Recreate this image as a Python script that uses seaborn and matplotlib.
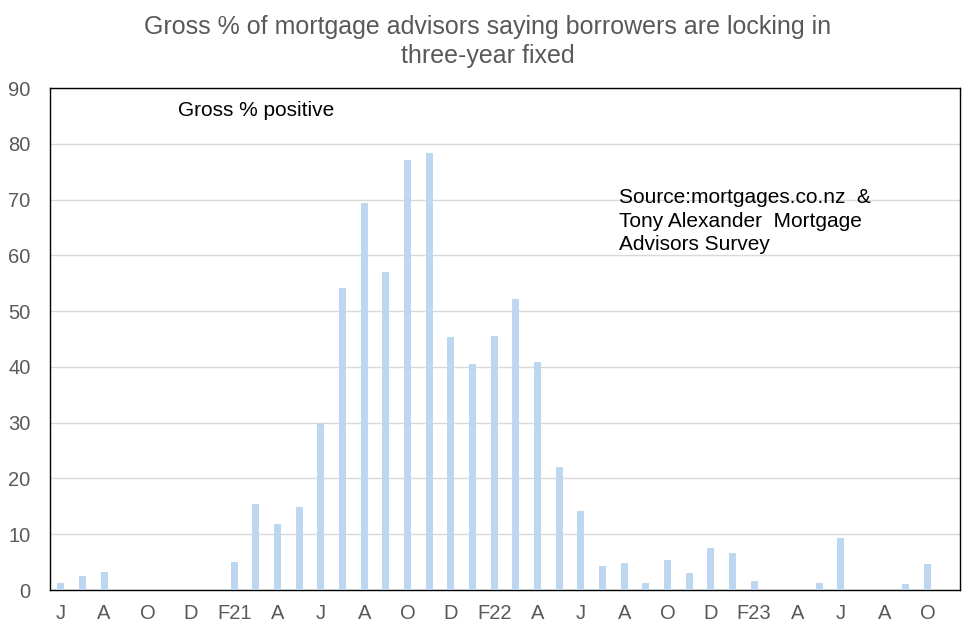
import pandas as pd
import seaborn as sns
import matplotlib.pyplot as plt

# Monthly survey readings, Jun 2020 - Nov 2023
months = pd.date_range("2020-06-01", "2023-11-01", freq="MS")

gross_positive = [
    1.2, 2.5, 3.2, 0, 0, 0, 0, 0, 5.0, 15.4, 11.9, 14.9,
    29.9, 54.2, 69.3, 57.1, 77.1, 78.3, 45.3, 40.6, 45.5, 52.1, 40.8, 22.0,
    14.2, 4.3, 4.9, 1.2, 5.3, 3.1, 7.5, 6.6, 1.6, 0, 0, 1.2,
    9.3, 0, 0, 1.1, 4.7, None,
]

tick_labels = ["J", "", "A", "", "O", "", "D", "", "F21", "", "A", "",
               "J", "", "A", "", "O", "", "D", "", "F22", "", "A", "",
               "J", "", "A", "", "O", "", "D", "", "F23", "", "A", "",
               "J", "", "A", "", "O", ""]

df = pd.DataFrame({"month": months.strftime("%Y-%m"), "value": gross_positive})

sns.set_style("white")
plt.rcParams["font.family"] = ["Liberation Sans", "DejaVu Sans"]

fig = plt.figure(figsize=(9.76, 6.36), dpi=100)
ax = fig.add_axes([0.0512, 0.0723, 0.9324, 0.7893])

sns.barplot(data=df, x="month", y="value", color="#BDD7F0", width=0.33,
            saturation=1, linewidth=0, ax=ax, zorder=3)

ax.set_ylim(0, 90)
ax.set_yticks(range(0, 91, 10))
ax.set_xlim(-0.5, len(months) - 0.5)
ax.set_xticks(range(len(months)))
ax.set_xticklabels(tick_labels)
ax.tick_params(axis="both", labelsize=14.5, colors="#595959", length=0)
ax.tick_params(axis="x", pad=10)
ax.tick_params(axis="y", pad=14)
ax.set_xlabel("")
ax.set_ylabel("")

ax.yaxis.grid(True, color="#D9D9D9", linewidth=1, zorder=0)
for s in ax.spines.values():
    s.set_visible(True)
    s.set_color("black")
    s.set_linewidth(1)

fig.suptitle("Gross % of mortgage advisors saying borrowers are locking in\nthree-year fixed",
             fontsize=18, color="#595959", y=0.976, linespacing=1.27)

ax.text(0.141, 0.975, "Gross % positive", transform=ax.transAxes,
        fontsize=15, va="top", ha="left", color="black")
ax.text(0.625, 0.80, "Source:mortgages.co.nz  &\nTony Alexander  Mortgage\nAdvisors Survey",
        transform=ax.transAxes, fontsize=15, va="top", ha="left",
        color="black", linespacing=1.3)

plt.savefig("out.png", dpi=100)
